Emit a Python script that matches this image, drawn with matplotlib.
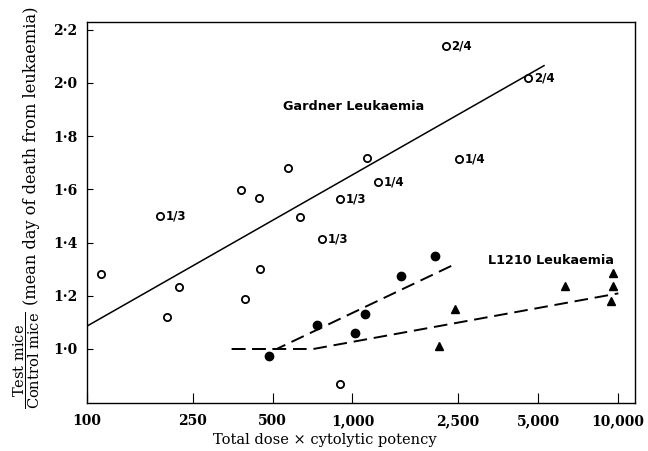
import matplotlib
matplotlib.use("Agg")
from matplotlib import pyplot as plt

# Gardner leukaemia (open circles), with fraction labels where printed
gardner_x = [113, 188, 200, 223, 380, 395, 444, 450, 570, 634, 769, 897, 897,
             1137, 1244, 2250, 2512, 4594]
gardner_y = [1.282, 1.50, 1.119, 1.232, 1.597, 1.189, 1.569, 1.301, 1.679,
             1.496, 1.412, 1.565, 0.867, 1.719, 1.629, 2.139, 1.713, 2.018]
gardner_lab = ["", "1/3", "", "", "", "", "", "", "", "", "1/3", "1/3", "",
               "", "1/4", "2/4", "1/4", "2/4"]

# L1210 leukaemia, two series (filled circles, triangles)
l1210_dot_x = [486, 737, 1022, 1114, 1519, 2051]
l1210_dot_y = [0.973, 1.089, 1.06, 1.133, 1.276, 1.35]
l1210_tri_x = [2117, 2432, 6314, 9600, 9600, 9410]
l1210_tri_y = [1.012, 1.149, 1.237, 1.287, 1.237, 1.18]

# fitted lines
gardner_fit_x = [100, 5265]
gardner_fit_y = [1.086, 2.065]
dot_fit_x = [351, 518, 2364]
dot_fit_y = [1.0, 1.0, 1.313]
tri_fit_x = [351, 712, 10030]
tri_fit_y = [1.0, 1.0, 1.209]

xticks = [100, 250, 500, 1000, 2500, 5000, 10000]
xtick_labels = ["100", "250", "500", "1,000", "2,500", "5,000", "10,000"]
yticks = [1.0, 1.2, 1.4, 1.6, 1.8, 2.0, 2.2]
ytick_labels = ["1·0", "1·2", "1·4", "1·6", "1·8", "2·0", "2·2"]

plt.rcParams["mathtext.fontset"] = "dejavuserif"

fig = plt.figure(figsize=(6.48, 4.51), dpi=100)
ax = fig.add_axes([87 / 648, 1 - 403 / 451, 548 / 648, 381 / 451])
ax.set_xscale("log")
ax.set_xlim(100, 11590)
ax.set_ylim(0.797, 2.229)

ax.plot(gardner_fit_x, gardner_fit_y, color="black", lw=1.1)
ax.plot(dot_fit_x, dot_fit_y, color="black", lw=1.4, dashes=(7, 3.5))
ax.plot(tri_fit_x, tri_fit_y, color="black", lw=1.4, dashes=(7, 3.5))

ax.plot(gardner_x, gardner_y, "o", mfc="white", mec="black", mew=1.3, ms=5.2)
ax.plot(l1210_dot_x, l1210_dot_y, "o", color="black", ms=6)
ax.plot(l1210_tri_x, l1210_tri_y, "^", color="black", ms=6)

for x, y, t in zip(gardner_x, gardner_y, gardner_lab):
    if t:
        ax.annotate(t, (x, y), xytext=(4, 0), textcoords="offset points",
                    va="center", ha="left", fontsize=8.5, fontweight="bold",
                    family="DejaVu Sans")

ax.text(548, 1.913, "Gardner Leukaemia", fontsize=9.2, fontweight="bold",
        family="DejaVu Sans", va="center", ha="left")
ax.text(3248, 1.331, "L1210 Leukaemia", fontsize=9.2, fontweight="bold",
        family="DejaVu Sans", va="center", ha="left")

ax.minorticks_off()
ax.set_xticks(xticks)
ax.set_xticklabels(xtick_labels)
ax.set_yticks(yticks)
ax.set_yticklabels(ytick_labels)
ax.tick_params(axis="x", direction="in", length=7, width=0.8, pad=8)
ax.tick_params(axis="y", direction="in", length=4, width=0.8, pad=7)
for lab in ax.get_xticklabels() + ax.get_yticklabels():
    lab.set_family("DejaVu Serif")
    lab.set_fontweight("bold")
    lab.set_fontsize(10)
for s in ax.spines.values():
    s.set_linewidth(1.0)

fig.text(325 / 648, 1 - 440 / 451, "Total dose × cytolytic potency",
         family="DejaVu Serif", fontsize=10.5, ha="center", va="center")
fig.text(27 / 648, 1 - 360 / 451,
         r"$\dfrac{\mathrm{Test\ mice}}{\mathrm{Control\ mice}}$",
         rotation=90, fontsize=10.5, ha="center", va="center")
fig.text(32 / 648, 1 - 156 / 451, "(mean day of death from leukaemia)",
         rotation=90, family="DejaVu Serif", fontsize=11.7,
         ha="center", va="center")

fig.savefig("out.png", dpi=100)
